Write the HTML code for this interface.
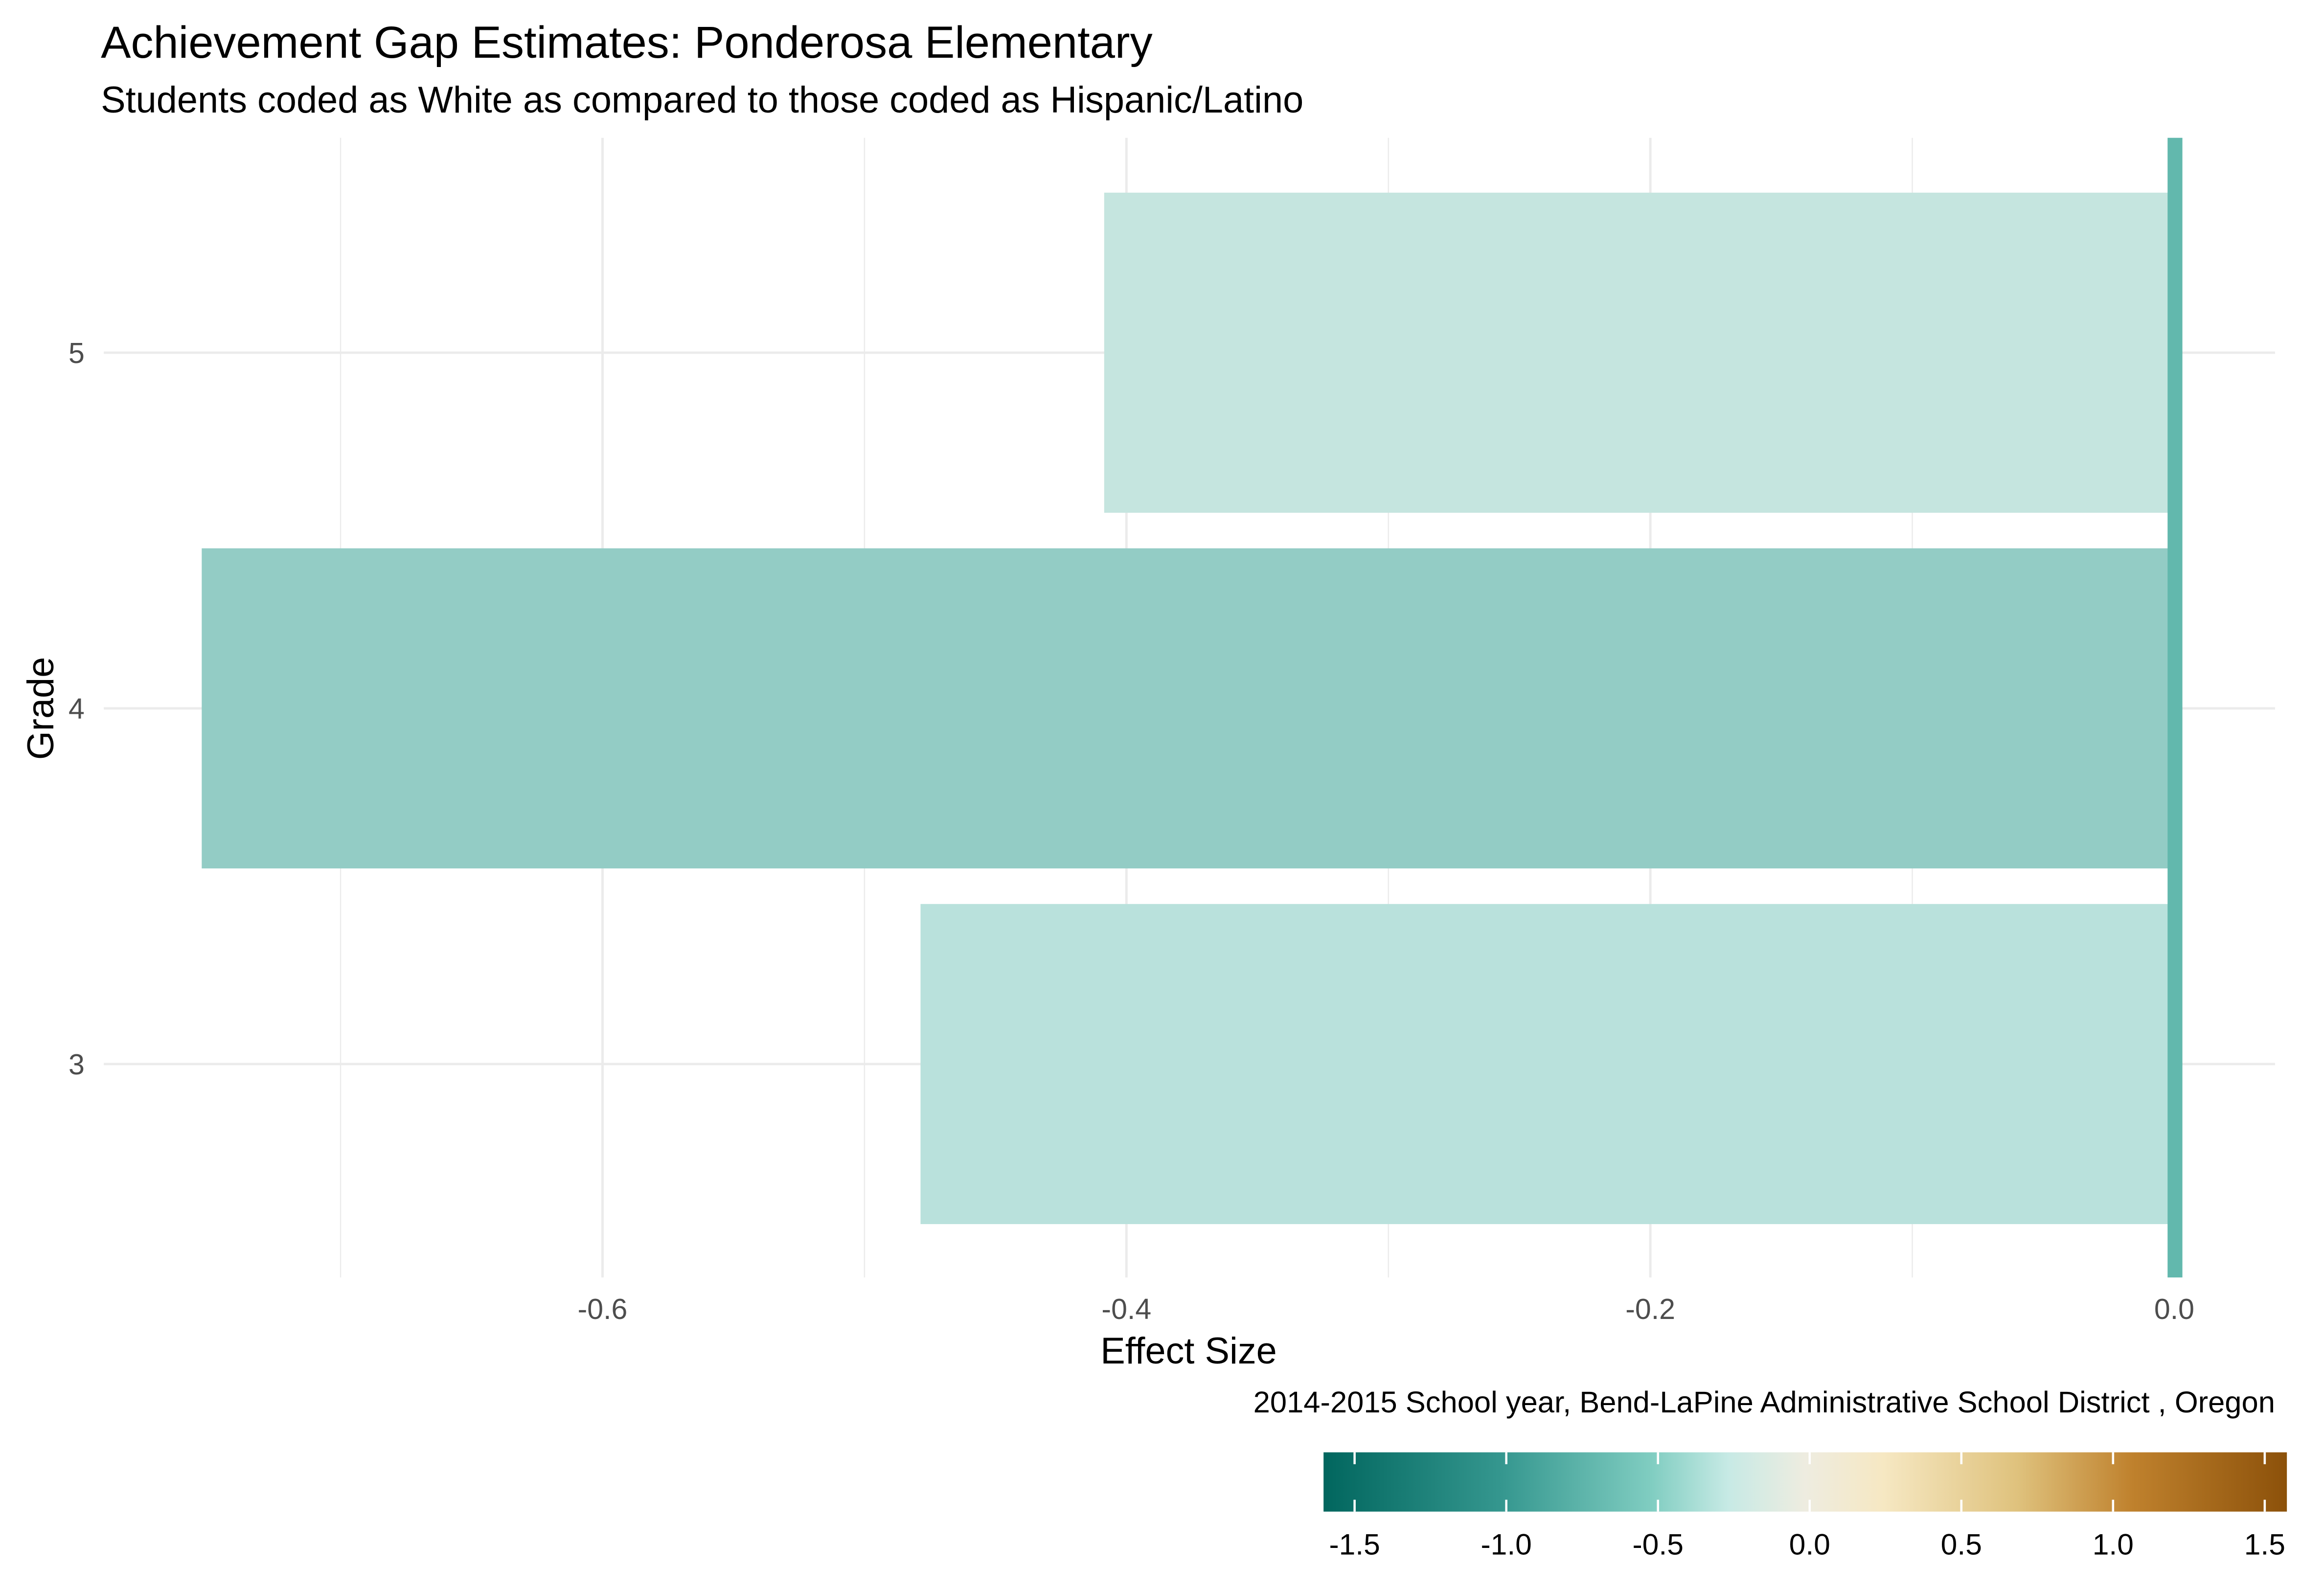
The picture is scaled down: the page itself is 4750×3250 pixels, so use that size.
<!DOCTYPE html>
<html><head><meta charset="utf-8"><style>
html,body{margin:0;padding:0;background:#fff;}
svg{display:block;font-family:"Liberation Sans",Arial,sans-serif;}
</style></head><body>
<svg id="chart" width="4750" height="3250" viewBox="0 0 1568 1072.9" xmlns="http://www.w3.org/2000/svg">
<defs>
<linearGradient id="brbg" x1="0" x2="1" y1="0" y2="0">
<stop offset="0" stop-color="#01665e"/>
<stop offset="0.185" stop-color="#35978f"/>
<stop offset="0.34" stop-color="#80cdc1"/>
<stop offset="0.42" stop-color="#c7eae5"/>
<stop offset="0.5" stop-color="#eeece0"/>
<stop offset="0.58" stop-color="#f6e8c3"/>
<stop offset="0.72" stop-color="#dfc27d"/>
<stop offset="0.84" stop-color="#bf812d"/>
<stop offset="1" stop-color="#8c510a"/>
</linearGradient>
</defs>
<text x="68" y="39" font-size="30.4" fill="#000">Achievement Gap Estimates: Ponderosa Elementary</text>
<text x="68" y="76" font-size="25" fill="#000">Students coded as White as compared to those coded as Hispanic/Latino</text>
<g id="grid"></g>
<g id="bars"></g>
<g id="axes"></g>
<text transform="translate(36,478) rotate(-90)" text-anchor="middle" font-size="25" fill="#000">Grade</text>
<text x="802" y="920" text-anchor="middle" font-size="25" fill="#000">Effect Size</text>
<text x="1535" y="953" text-anchor="end" font-size="20.3" fill="#000">2014-2015 School year,  Bend-LaPine Administrative School District , Oregon</text>
<g id="legend">
<rect x="893" y="980" width="650" height="40" fill="url(#brbg)"/>
</g>
</svg>
<script>
const grades = ["3","4","5"];
const effects = [-0.4786, -0.7530, -0.4085];
const barColors = ["#b9e1dc","#93ccc5","#c5e5df"];
const xTicks = [-0.6,-0.4,-0.2,0.0];
const xTickLabels = ["-0.6","-0.4","-0.2","0.0"];
const xMinor = [-0.7,-0.5,-0.3,-0.1];
const legendTicks = [-1.5,-1.0,-0.5,0.0,0.5,1.0,1.5];
const legendLabels = ["-1.5","-1.0","-0.5","0.0","0.5","1.0","1.5"];

const NS="http://www.w3.org/2000/svg";
const PL=70, PR=1535, PT=93, PB=862;
const x = v => 1467 + v*1767.5;
const y = i => 718 - i*240;
const lx = v => 1221 + v*204.7;
function mk(tag, attrs, parent){const e=document.createElementNS(NS,tag);for(const k in attrs)e.setAttribute(k,attrs[k]);document.getElementById(parent).appendChild(e);return e;}

xMinor.forEach(v=>{
  const l=mk('line',{x1:x(v),x2:x(v),y1:PT,y2:PB,stroke:'#ebebeb','stroke-width':0.8},'grid');
  
  
});
xTicks.forEach((v,i)=>{
  const l=mk('line',{x1:x(v),x2:x(v),y1:PT,y2:PB,stroke:'#ebebeb','stroke-width':1.6},'grid');
  
  
  const t=mk('text',{x:x(v),y:890,'text-anchor':'middle','font-size':19.5,fill:'#4d4d4d'},'axes');
  t.textContent=xTickLabels[i];
  
  
});
grades.forEach((g,i)=>{
  const l=mk('line',{x1:PL,x2:PR,y1:y(i),y2:y(i),stroke:'#ebebeb','stroke-width':1.6},'grid');
  
  
  const t=mk('text',{x:57,y:y(i)+7,'text-anchor':'end','font-size':19.5,fill:'#4d4d4d'},'axes');
  t.textContent=g;
  
  
  const v=effects[i];
  const b=mk('rect',{x:Math.min(x(v),x(0)),y:y(i)-108,width:Math.abs(x(v)-x(0)),height:216,fill:barColors[i]},'bars');
  
  
});
const z=mk('rect',{x:x(0)-4.5,y:PT,width:10,height:PB-PT,fill:'#62b8ad'},'bars');



legendTicks.forEach((v,i)=>{
  const a=mk('line',{x1:lx(v),x2:lx(v),y1:980,y2:988,stroke:'#fff','stroke-width':1.5},'legend');
  
  
  const b=mk('line',{x1:lx(v),x2:lx(v),y1:1012,y2:1020,stroke:'#fff','stroke-width':1.5},'legend');
  
  
  const t=mk('text',{x:lx(v),y:1049,'text-anchor':'middle','font-size':20,fill:'#000'},'legend');
  t.textContent=legendLabels[i];
  
  
});
</script>
</body></html>
